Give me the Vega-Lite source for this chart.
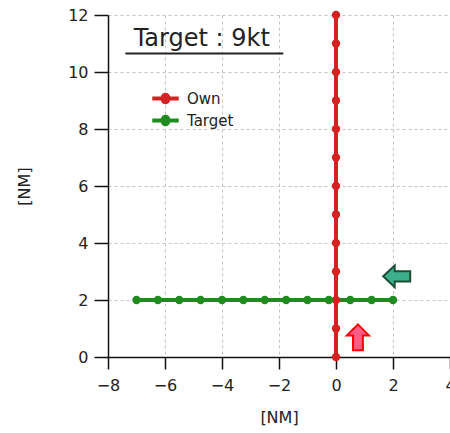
{
  "$schema": "https://vega.github.io/schema/vega-lite/v6.json",
  "width": 342,
  "height": 342,
  "autosize": {"type": "none"},
  "padding": {"left": 108, "top": 15, "right": 0, "bottom": 76},
  "background": "white",
  "datasets": {
    "tracks": [
      {"ship": "Own", "x": 0, "y": 0},
      {"ship": "Own", "x": 0, "y": 1},
      {"ship": "Own", "x": 0, "y": 2},
      {"ship": "Own", "x": 0, "y": 3},
      {"ship": "Own", "x": 0, "y": 4},
      {"ship": "Own", "x": 0, "y": 5},
      {"ship": "Own", "x": 0, "y": 6},
      {"ship": "Own", "x": 0, "y": 7},
      {"ship": "Own", "x": 0, "y": 8},
      {"ship": "Own", "x": 0, "y": 9},
      {"ship": "Own", "x": 0, "y": 10},
      {"ship": "Own", "x": 0, "y": 11},
      {"ship": "Own", "x": 0, "y": 12},
      {"ship": "Target", "x": -7, "y": 2},
      {"ship": "Target", "x": -6.25, "y": 2},
      {"ship": "Target", "x": -5.5, "y": 2},
      {"ship": "Target", "x": -4.75, "y": 2},
      {"ship": "Target", "x": -4, "y": 2},
      {"ship": "Target", "x": -3.25, "y": 2},
      {"ship": "Target", "x": -2.5, "y": 2},
      {"ship": "Target", "x": -1.75, "y": 2},
      {"ship": "Target", "x": -1, "y": 2},
      {"ship": "Target", "x": -0.25, "y": 2},
      {"ship": "Target", "x": 0.5, "y": 2},
      {"ship": "Target", "x": 1.25, "y": 2},
      {"ship": "Target", "x": 2, "y": 2}
    ],
    "title": [{"label": "Target : 9kt", "x": -7.1, "y": 10.9, "x1": -7.39, "x2": -1.85, "yu": 10.65}],
    "arrows": [
      {"kind": "target", "x": 2.13, "y": 2.83},
      {"kind": "own", "x": 0.77, "y": 0.69}
    ]
  },
  "layer": [
    {
      "data": {"name": "tracks"},
      "mark": {"type": "line", "strokeWidth": 4},
      "encoding": {
        "x": {"field": "x", "type": "quantitative", "scale": {"domain": [-8, 4], "nice": false},
          "axis": {"values": [-8, -6, -4, -2, 0, 2, 4], "title": "[NM]", "tickSize": 12, "labelPadding": 8, "titlePadding": 16, "labelFlush": false}},
        "y": {"field": "y", "type": "quantitative", "scale": {"domain": [0, 12], "nice": false},
          "axis": {"values": [0, 2, 4, 6, 8, 10, 12], "title": "[NM]", "tickSize": 14, "labelPadding": 6, "titlePadding": 35}},
        "color": {"field": "ship", "type": "nominal", "scale": {"domain": ["Own", "Target"], "range": ["#d42222", "#1e8c1e"]}},
        "order": {"field": "x", "type": "quantitative"},
        "detail": {"field": "ship"}
      }
    },
    {
      "data": {"name": "tracks"},
      "mark": {"type": "point", "filled": true, "size": 70, "opacity": 1},
      "encoding": {
        "x": {"field": "x", "type": "quantitative"},
        "y": {"field": "y", "type": "quantitative"},
        "color": {"field": "ship", "type": "nominal"}
      }
    },
    {
      "data": {"name": "title"},
      "mark": {"type": "text", "align": "left", "baseline": "alphabetic", "fontSize": 24, "font": "DejaVu Sans", "color": "#222"},
      "encoding": {
        "x": {"field": "x", "type": "quantitative"},
        "y": {"field": "y", "type": "quantitative"},
        "text": {"field": "label"}
      }
    },
    {
      "data": {"name": "title"},
      "mark": {"type": "rule", "strokeWidth": 2, "color": "#222"},
      "encoding": {
        "x": {"field": "x1", "type": "quantitative"},
        "x2": {"field": "x2"},
        "y": {"field": "yu", "type": "quantitative"}
      }
    },
    {
      "data": {"name": "arrows"},
      "transform": [{"filter": "datum.kind === 'target'"}],
      "mark": {"type": "point", "filled": true, "size": 729, "opacity": 1, "fill": "#3cb08c", "stroke": "#1d4d33", "strokeWidth": 2,
        "shape": "M-1,0L-0.15,-0.8L-0.15,-0.38L1,-0.38L1,0.38L-0.15,0.38L-0.15,0.8Z"},
      "encoding": {
        "x": {"field": "x", "type": "quantitative"},
        "y": {"field": "y", "type": "quantitative"}
      }
    },
    {
      "data": {"name": "arrows"},
      "transform": [{"filter": "datum.kind === 'own'"}],
      "mark": {"type": "point", "filled": true, "size": 676, "opacity": 1, "fill": "#ff5c85", "stroke": "#ff0000", "strokeWidth": 2,
        "shape": "M0,-1L0.85,-0.15L0.38,-0.15L0.38,1L-0.38,1L-0.38,-0.15L-0.85,-0.15Z"},
      "encoding": {
        "x": {"field": "x", "type": "quantitative"},
        "y": {"field": "y", "type": "quantitative"}
      }
    }
  ],
  "resolve": {"legend": {"color": "shared"}},
  "config": {
    "font": "DejaVu Sans",
    "view": {"stroke": null},
    "legend": {
      "title": null, "orient": "none", "legendX": 44, "legendY": 70,
      "labelFontSize": 15, "labelFont": "DejaVu Sans", "labelColor": "#222",
      "symbolType": "M-1,-0.15L-0.35,-0.15A0.36,0.36 0 0 1 0.35,-0.15L1,-0.15L1,0.15L0.35,0.15A0.36,0.36 0 0 1 -0.35,0.15L-1,0.15Z",
      "symbolSize": 700, "symbolStrokeWidth": 0, "rowPadding": -8, "labelOffset": 8, "symbolOpacity": 1
    },
    "axis": {
      "labelFont": "DejaVu Sans",
      "labelFontSize": 16,
      "labelColor": "#222",
      "titleFont": "DejaVu Sans",
      "titleFontSize": 16,
      "titleFontWeight": "normal",
      "titleColor": "#222",
      "domainColor": "#111",
      "domainWidth": 1.5,
      "tickColor": "#111",
      "tickWidth": 1.5,
      "gridColor": "#c4c4c4",
      "gridDash": [3, 3],
      "gridWidth": 1
    }
  }
}
